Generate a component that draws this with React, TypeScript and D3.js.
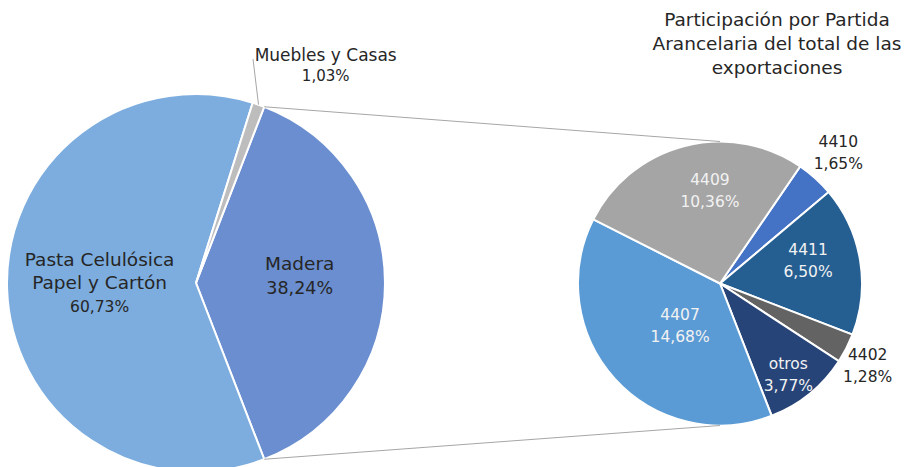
import React from "react";
import * as d3 from "d3";

// ---------- Data ----------
const mainNames = ["Madera", "Pasta Celulósica|Papel y Cartón", "Muebles y Casas"];
const mainValues = [38.24, 60.73, 1.03];
const mainColors = ["#6a8ecf", "#7cadde", "#bdbdbd"];

const subNames = ["4410", "4411", "4402", "otros", "4407", "4409"];
const subValues = [1.65, 6.5, 1.28, 3.77, 14.68, 10.36];
const subColors = ["#4472c4", "#255e91", "#636363", "#264478", "#5b9bd5", "#a5a5a5"];

const titleLines = ["Participación por Partida", "Arancelaria del total de las", "exportaciones"];

// label placement: [angle in degrees clockwise from top, radius fraction]
const mainLabelPos: [number, number][] = [[86, 0.55], [270, 0.51], [30.8, 1.34]];
const subLabelPos: [number, number][] = [
  [42.2, 1.24], [75.7, 0.64], [119.1, 1.19], [143, 0.8], [223.3, 0.41], [353.8, 0.655],
];
const subLabelInside = [false, true, false, true, true, true];

const W = 907;
const H = 467;
const FONT = "'DejaVu Sans', sans-serif";

const fmt = (v: number) => v.toFixed(2).replace(".", ",") + "%";

const polar = (cx: number, cy: number, r: number, deg: number) => {
  const a = (deg * Math.PI) / 180;
  return [cx + r * Math.sin(a), cy - r * Math.cos(a)];
};

const App: React.FC = () => {
  // main pie
  const c1 = { x: 196, y: 283, r: 189 };
  const total1 = d3.sum(mainValues);
  const start1 = Math.PI / 2 - (mainValues[0] / total1) * Math.PI;
  const pie1 = d3
    .pie<number>()
    .sort(null)
    .startAngle(start1)
    .endAngle(start1 + 2 * Math.PI)(mainValues);
  const arc1 = d3.arc<d3.PieArcDatum<number>>().innerRadius(0).outerRadius(c1.r);

  // secondary pie
  const c2 = { x: 720, y: 283.5, r: 142 };
  const start2 = (34.4 * Math.PI) / 180;
  const pie2 = d3
    .pie<number>()
    .sort(null)
    .startAngle(start2)
    .endAngle(start2 + 2 * Math.PI)(subValues);
  const arc2 = d3.arc<d3.PieArcDatum<number>>().innerRadius(0).outerRadius(c2.r);

  // connector lines from Madera slice edges to the second pie
  const madera = pie1[0];
  const deg = (a: number) => (a * 180) / Math.PI;
  const pTop = polar(c1.x, c1.y, c1.r, deg(madera.startAngle));
  const pBot = polar(c1.x, c1.y, c1.r, deg(madera.endAngle));

  // leader line for Muebles
  const muebles = pie1[2];
  const mMid = deg((muebles.startAngle + muebles.endAngle) / 2);
  const leadEnd = polar(c1.x, c1.y, c1.r, mMid);

  return (
    <svg
      width={W}
      height={H}
      style={{ position: "absolute", left: 0, top: 0, background: "#fff" }}
      fontFamily={FONT}
    >
      <g transform={`translate(${c1.x},${c1.y})`}>
        {pie1.map((d, i) => (
          <path key={i} d={arc1(d) || ""} fill={mainColors[i]} stroke="#fff" strokeWidth={2} />
        ))}
      </g>
      <g transform={`translate(${c2.x},${c2.y})`}>
        {pie2.map((d, i) => (
          <path key={i} d={arc2(d) || ""} fill={subColors[i]} stroke="#fff" strokeWidth={2} />
        ))}
      </g>

      <line x1={pTop[0]} y1={pTop[1]} x2={c2.x} y2={c2.y - c2.r} stroke="#a6a6a6" strokeWidth={1} />
      <line x1={pBot[0]} y1={pBot[1]} x2={c2.x} y2={c2.y + c2.r} stroke="#a6a6a6" strokeWidth={1} />
      <line x1={253} y1={59} x2={leadEnd[0]} y2={leadEnd[1]} stroke="#a6a6a6" strokeWidth={1} />

      {/* main labels */}
      {mainNames.map((name, i) => {
        const [a, f] = mainLabelPos[i];
        const [x, y] = polar(c1.x, c1.y, c1.r * f, a);
        const lines = name.split("|");
        const big = i < 2;
        const n = lines.length + 1;
        const lh = big ? 23.5 : 20.5;
        const y0 = y - ((n - 1) * lh) / 2;
        return (
          <text key={i} textAnchor="middle" fill="#262626">
            {lines.map((t, j) => (
              <tspan key={j} x={x} y={y0 + j * lh} dy="0.35em" fontSize={big ? 18.5 : 17}>
                {t}
              </tspan>
            ))}
            <tspan x={x} y={y0 + lines.length * lh} dy="0.35em" fontSize={i === 0 ? 17.5 : i === 1 ? 15.5 : 15}>
              {fmt(mainValues[i])}
            </tspan>
          </text>
        );
      })}

      {/* secondary labels */}
      {subNames.map((name, i) => {
        const [a, f] = subLabelPos[i];
        const [x, y] = polar(c2.x, c2.y, c2.r * f, a);
        const col = subLabelInside[i] ? "#f2f2f2" : "#262626";
        return (
          <text key={i} textAnchor="middle" fill={col} fontSize={15.5}>
            <tspan x={x} y={y - 11} dy="0.35em">{name}</tspan>
            <tspan x={x} y={y + 11} dy="0.35em">{fmt(subValues[i])}</tspan>
          </text>
        );
      })}

      {/* title */}
      <text textAnchor="middle" fill="#262626" fontSize={18.5}>
        {titleLines.map((t, j) => (
          <tspan key={j} x={777} y={20 + j * 24} dy="0.35em">{t}</tspan>
        ))}
      </text>
    </svg>
  );
};

export default App;
